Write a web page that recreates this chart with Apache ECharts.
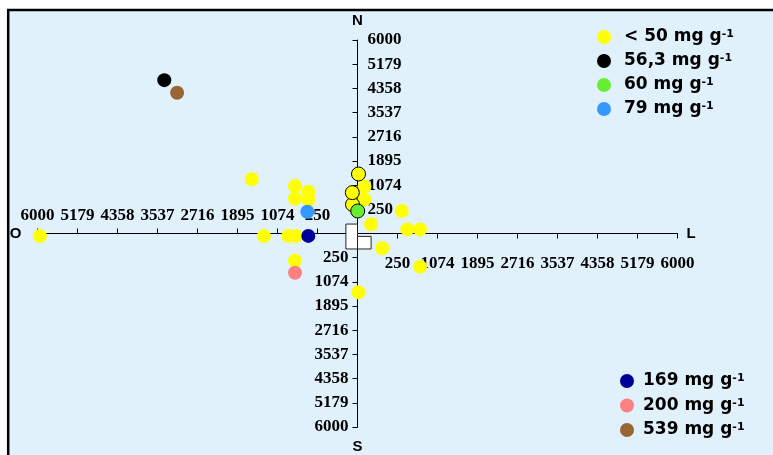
<!DOCTYPE html>
<html>
<head>
<meta charset="utf-8">
<script src="https://cdn.jsdelivr.net/npm/echarts@6/dist/echarts.min.js"></script>
<style>
html,body{margin:0;padding:0;background:#fff;}
#c{width:773px;height:455px;}
</style>
</head>
<body>
<div id="c"></div>
<script>
// Axis is drawn in "step" units: each tick step is one unit; labels map steps to distances.
const stepLabels = ['250','1074','1895','2716','3537','4358','5179','6000'];
const posSteps = [1,2,3,4,5,6,7,8];
const negSteps = [-1,-2,-3,-4,-5,-6,-7,-8];

// points [x, y] in axis step units
const yellowPoints = [
  [-2.645, 2.24], [-1.5625, 1.96], [-1.23, 1.73], [-1.5625, 1.45], [-1.225, 1.40],
  [0.175, 1.94], [0.175, 1.41], [1.105, 0.93], [0.3375, 0.38], [1.245, 0.17],
  [1.5625, 0.17], [0.62, -0.61], [1.5625, -1.37], [-2.34, -0.10], [-1.73, -0.10],
  [-1.54, -0.10], [-1.5625, -1.12], [0.02, -2.43], [-7.94, -0.10]
];
const yellowOutlined = [
  [-0.125, 1.20], [-0.13, 1.69], [0.025, 2.46]
];
const blackPoints = [[-4.83, 6.34]];
const greenPoints = [[0.005, 0.93]];
const lightBluePoints = [[-1.255, 0.90]];
const navyPoints = [[-1.23, -0.10]];
const pinkPoints = [[-1.5625, -1.62]];
const brownPoints = [[-4.51, 5.82]];

// white boxes [x0, x1, y0, y1]
const boxes = [[-0.29, 0.0, -0.64, 0.39], [0.0, 0.34, -0.64, -0.12]];

const names = ['< 50 mg g-1', '56,3 mg g-1', '60 mg g-1', '79 mg g-1', '169 mg g-1', '200 mg g-1', '539 mg g-1'];
const colors = ['#FFFF00', '#000000', '#66EE33', '#3399FF', '#000099', '#FF8080', '#996633'];

const chart = echarts.init(document.getElementById('c'));

const labelFont = { fontFamily: 'Liberation Serif', fontWeight: 'bold', fontSize: 17, color: '#000' };
const nameFont = { fontFamily: 'Liberation Sans', fontWeight: 'bold', fontSize: 15, color: '#000' };
const lineStyle = { color: '#000', width: 1 };

const legendRich = {
  b: { fontFamily: 'DejaVu Sans', fontWeight: 'bold', fontSize: 17, color: '#000', lineHeight: 20 },
  s: { fontFamily: 'DejaVu Sans', fontWeight: 'bold', fontSize: 11, color: '#000', lineHeight: 11, verticalAlign: 'top', padding: [2, 0, 0, 0] }
};
const legendFormatter = n => '{b|' + n.replace(/-1$/, '') + '}{s|-1}';
const outlined = p => ({ value: p, itemStyle: { borderColor: '#000', borderWidth: 1 } });

const L = 37.5, T = 40, W = 640, H = 387;
const CX = L + W / 2, CY = T + H / 2;
const g = (left, top, width, height) => ({ left, top, width, height, containLabel: false, outerBoundsMode: 'none' });
const hiddenAxis = (gi, min, max) => ({ type: 'value', gridIndex: gi, min, max, show: false });
const posFmt = v => stepLabels[Math.round(Math.abs(v)) - 1] || '';

const option = {
  backgroundColor: '#fff',
  animation: false,
  graphic: [{
    type: 'rect', z: -10, silent: true,
    shape: { x: 8.2, y: 10, width: 820, height: 500 },
    style: { fill: '#E1F1FC', stroke: '#000', lineWidth: 2.5 }
  }],
  grid: [
    g(L, T, W, H),            // main plot
    g(CX, T, W / 2, H / 2),   // east axis (bottom edge)
    g(L, CY, W / 2, H / 2),   // west axis (top edge)
    g(CX, T, W / 2, H / 2),   // north axis (left edge)
    g(L, CY, W / 2, H / 2)    // south axis (right edge)
  ],
  xAxis: [
    hiddenAxis(0, -8, 8),
    {
      type: 'value', gridIndex: 1, min: 0, max: 8, interval: 1, position: 'bottom', z: 0,
      name: 'L', nameLocation: 'end', nameGap: 9, nameTextStyle: Object.assign({ verticalAlign: 'middle' }, nameFont),
      axisLine: { onZero: false, lineStyle },
      axisTick: { show: true, length: 5, customValues: posSteps, lineStyle },
      axisLabel: Object.assign({ customValues: posSteps, margin: 22, formatter: posFmt }, labelFont),
      splitLine: { show: false }
    },
    {
      type: 'value', gridIndex: 2, min: -8, max: 0, interval: 1, position: 'top', z: 0,
      name: 'O', nameLocation: 'start', nameGap: 16, nameTextStyle: Object.assign({ verticalAlign: 'middle', padding: [6, 0, 0, 0] }, nameFont),
      axisLine: { onZero: false, lineStyle },
      axisTick: { show: true, length: 5, customValues: negSteps, lineStyle },
      axisLabel: Object.assign({ customValues: negSteps, margin: 9, formatter: posFmt }, labelFont),
      splitLine: { show: false }
    },
    hiddenAxis(3, 0, 8),
    hiddenAxis(4, -8, 0)
  ],
  yAxis: [
    hiddenAxis(0, -8, 8),
    hiddenAxis(1, 0, 8),
    hiddenAxis(2, -8, 0),
    {
      type: 'value', gridIndex: 3, min: 0, max: 8, interval: 1, position: 'left', z: 0,
      name: 'N', nameLocation: 'end', nameGap: 12, nameTextStyle: Object.assign({ align: 'center' }, nameFont),
      axisLine: { onZero: false, lineStyle },
      axisTick: { show: true, length: 5, customValues: posSteps, lineStyle },
      axisLabel: Object.assign({ inside: true, customValues: posSteps, margin: 10, padding: [5, 0, 0, 0], formatter: posFmt }, labelFont),
      splitLine: { show: false }
    },
    {
      type: 'value', gridIndex: 4, min: -8, max: 0, interval: 1, position: 'right', z: 0,
      name: 'S', nameLocation: 'start', nameGap: 12, nameTextStyle: Object.assign({ align: 'center', verticalAlign: 'top' }, nameFont),
      axisLine: { onZero: false, lineStyle },
      axisTick: { show: true, inside: true, length: 5, customValues: negSteps, lineStyle },
      axisLabel: Object.assign({ inside: true, customValues: negSteps, margin: 9, padding: [5, 0, 0, 0], formatter: posFmt }, labelFont),
      splitLine: { show: false }
    }
  ],
  legend: [
    {
      data: names.slice(0, 4), orient: 'vertical', left: 592, top: 22,
      itemWidth: 30, itemHeight: 14, itemGap: 5.5, icon: 'circle', selectedMode: false,
      formatter: legendFormatter, textStyle: { rich: legendRich }
    },
    {
      data: names.slice(4), orient: 'vertical', left: 615, top: 366,
      itemWidth: 22, itemHeight: 14, itemGap: 6, icon: 'circle', selectedMode: false,
      formatter: legendFormatter, textStyle: { rich: legendRich }
    }
  ],
  series: [
    {
      type: 'custom', silent: true, z: 5, zlevel: 1, xAxisIndex: 0, yAxisIndex: 0,
      renderItem: (params, api) => {
        const p0 = api.coord([api.value(0), api.value(3)]);
        const p1 = api.coord([api.value(1), api.value(2)]);
        return { type: 'rect', shape: { x: p0[0], y: p0[1], width: p1[0] - p0[0], height: p1[1] - p0[1] },
          style: { fill: '#fff', stroke: '#222', lineWidth: 1 } };
      },
      encode: { x: [0, 1], y: [2, 3] },
      data: boxes
    },
    { name: names[0], type: 'scatter', z: 10, zlevel: 1, symbolSize: 14, itemStyle: { color: colors[0], opacity: 1 },
      data: yellowPoints.concat(yellowOutlined.map(outlined)) },
    { name: names[1], type: 'scatter', z: 10, zlevel: 1, symbolSize: 14, itemStyle: { color: colors[1], opacity: 1 }, data: blackPoints },
    { name: names[2], type: 'scatter', z: 10, zlevel: 1, symbolSize: 14, itemStyle: { color: colors[2], opacity: 1 }, data: greenPoints.map(outlined) },
    { name: names[3], type: 'scatter', z: 10, zlevel: 1, symbolSize: 14, itemStyle: { color: colors[3], opacity: 1 }, data: lightBluePoints },
    { name: names[4], type: 'scatter', z: 10, zlevel: 1, symbolSize: 14, itemStyle: { color: colors[4], opacity: 1 }, data: navyPoints },
    { name: names[5], type: 'scatter', z: 10, zlevel: 1, symbolSize: 14, itemStyle: { color: colors[5], opacity: 1 }, data: pinkPoints },
    { name: names[6], type: 'scatter', z: 10, zlevel: 1, symbolSize: 14, itemStyle: { color: colors[6], opacity: 1 }, data: brownPoints }
  ]
};
chart.setOption(option);
</script>
</body>
</html>
